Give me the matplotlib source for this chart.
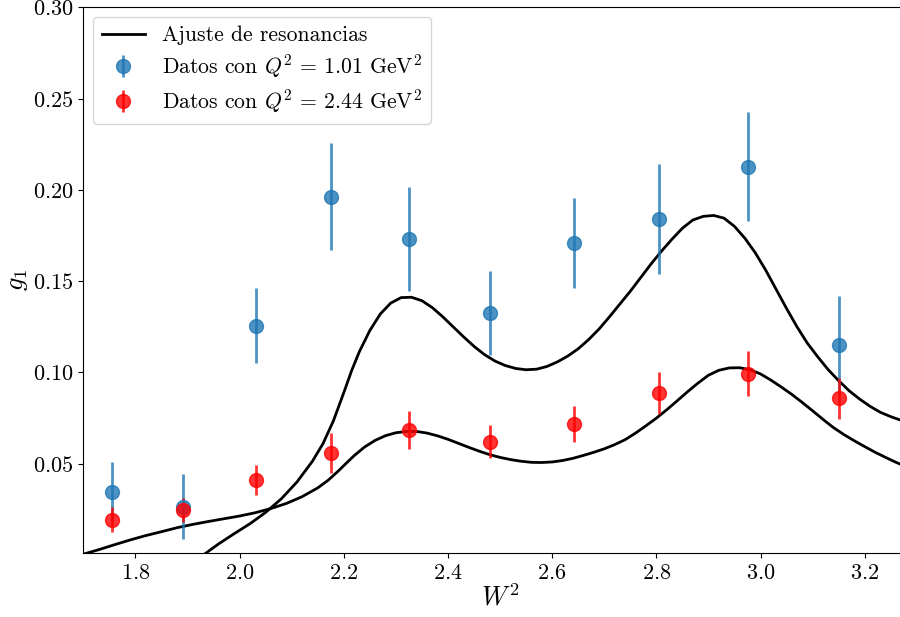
import matplotlib
matplotlib.use('Agg')
import matplotlib.pyplot as plt

plt.rcParams['font.family'] = 'serif'
plt.rcParams['font.serif'] = ['cmr10']
plt.rcParams['mathtext.fontset'] = 'cm'
plt.rcParams['axes.formatter.use_mathtext'] = True

# measured g1 points
w2_data = [1.755, 1.891, 2.031, 2.176, 2.326, 2.481, 2.641, 2.806, 2.976, 3.151]
g1_q101 = [0.0345, 0.0266, 0.1257, 0.1963, 0.1730, 0.1328, 0.1708, 0.1841, 0.2127, 0.1148]
err_q101 = [0.0165, 0.0178, 0.0203, 0.0293, 0.0286, 0.0230, 0.0245, 0.0300, 0.0297, 0.0272]
g1_q244 = [0.0193, 0.0248, 0.0412, 0.0559, 0.0686, 0.0620, 0.0717, 0.0885, 0.0993, 0.0860]
err_q244 = [0.0068, 0.0065, 0.0082, 0.0110, 0.0104, 0.0090, 0.0099, 0.0115, 0.0123, 0.0112]

# resonance fit, Q^2 = 1.01
fit_w2_a = [1.90, 1.93, 1.96, 1.99, 2.02, 2.05, 2.08, 2.11, 2.14, 2.16, 2.18,
            2.20, 2.215, 2.23, 2.25, 2.27, 2.29, 2.31, 2.33, 2.35, 2.37, 2.39,
            2.41, 2.43, 2.45, 2.47, 2.49, 2.51, 2.53, 2.55, 2.57, 2.59, 2.61,
            2.63, 2.65, 2.67, 2.69, 2.71, 2.73, 2.75, 2.77, 2.79, 2.81, 2.83,
            2.85, 2.87, 2.89, 2.91, 2.93, 2.95, 2.97, 2.99, 3.01, 3.03, 3.05,
            3.07, 3.09, 3.11, 3.13, 3.15, 3.17, 3.19, 3.21, 3.23, 3.25, 3.27, 3.30]
fit_g1_a = [-0.012, 0.000, 0.0062, 0.0118, 0.0172, 0.0234, 0.0308, 0.0400, 0.0515, 0.0610, 0.0735,
            0.0890, 0.1010, 0.1115, 0.1230, 0.1320, 0.1380, 0.1410, 0.1412, 0.1393, 0.1355, 0.1305,
            0.1250, 0.1195, 0.1143, 0.1098, 0.1063, 0.1038, 0.1022, 0.1015, 0.1018, 0.1033, 0.1058,
            0.1090, 0.1130, 0.1180, 0.1238, 0.1305, 0.1375, 0.1445, 0.1520, 0.1595, 0.1665, 0.1730,
            0.1790, 0.1835, 0.1855, 0.1860, 0.1845, 0.1800, 0.1735, 0.1655, 0.1560, 0.1455, 0.1350,
            0.1250, 0.1160, 0.1085, 0.1015, 0.0955, 0.0900, 0.0855, 0.0815, 0.0782, 0.0758, 0.0738, 0.0712]

# resonance fit, Q^2 = 2.44
fit_w2_b = [1.70, 1.73, 1.76, 1.79, 1.82, 1.85, 1.88, 1.91, 1.94, 1.97, 2.00,
            2.03, 2.06, 2.09, 2.12, 2.15, 2.17, 2.19, 2.205, 2.22, 2.24, 2.26,
            2.28, 2.30, 2.32, 2.34, 2.36, 2.38, 2.40, 2.42, 2.44, 2.46, 2.48,
            2.50, 2.52, 2.54, 2.56, 2.58, 2.60, 2.62, 2.64, 2.66, 2.68, 2.70,
            2.72, 2.74, 2.76, 2.78, 2.80, 2.82, 2.84, 2.86, 2.88, 2.90, 2.92,
            2.94, 2.96, 2.98, 3.00, 3.02, 3.04, 3.06, 3.08, 3.10, 3.12, 3.14,
            3.16, 3.18, 3.20, 3.22, 3.24, 3.26, 3.28, 3.30]
fit_g1_b = [0.0005, 0.0030, 0.0057, 0.0083, 0.0107, 0.0128, 0.0150, 0.0168, 0.0184, 0.0199, 0.0214,
            0.0232, 0.0255, 0.0283, 0.0320, 0.0368, 0.0410, 0.0462, 0.0504, 0.0545, 0.0592, 0.0628,
            0.0654, 0.0670, 0.0677, 0.0677, 0.0668, 0.0653, 0.0634, 0.0612, 0.0590, 0.0569, 0.0550,
            0.0535, 0.0523, 0.0514, 0.0508, 0.0507, 0.0510, 0.0518, 0.0530, 0.0546, 0.0563, 0.0582,
            0.0605, 0.0632, 0.0668, 0.0708, 0.0750, 0.0796, 0.0845, 0.0895, 0.0942, 0.0985, 0.1012,
            0.1025, 0.1026, 0.1015, 0.0992, 0.0958, 0.0920, 0.0880, 0.0836, 0.0790, 0.0743, 0.0698,
            0.0660, 0.0626, 0.0594, 0.0563, 0.0535, 0.0508, 0.0484, 0.0461]

fig = plt.figure(figsize=(9, 6.17), dpi=100)
ax = fig.add_axes([0.0926, 0.1033, 0.9261, 0.8849])

ax.plot(fit_w2_a, fit_g1_a, color='black', lw=2, label='Ajuste de resonancias')
ax.plot(fit_w2_b, fit_g1_b, color='black', lw=2)

ax.errorbar(w2_data, g1_q101, yerr=err_q101, fmt='o', ms=10, elinewidth=2,
            color='tab:blue', alpha=0.8, label=r'Datos con $Q^2\,=\,1.01$ GeV$^2$')
ax.errorbar(w2_data, g1_q244, yerr=err_q244, fmt='o', ms=10, elinewidth=2,
            color='red', alpha=0.8, label=r'Datos con $Q^2\,=\,2.44$ GeV$^2$')

ax.set_xlim(1.7, 3.3)
ax.set_ylim(0.001, 0.3)
ax.spines['right'].set_visible(False)
ax.tick_params(labelsize=16)
ax.set_xlabel(r'$W^2$', fontsize=19, labelpad=1)
ax.set_ylabel(r'$g_1$', fontsize=19, labelpad=2)
ax.legend(loc='upper left', fontsize=15.6, labelspacing=0.33, borderaxespad=0.45)

fig.savefig('out.png', dpi=100)
